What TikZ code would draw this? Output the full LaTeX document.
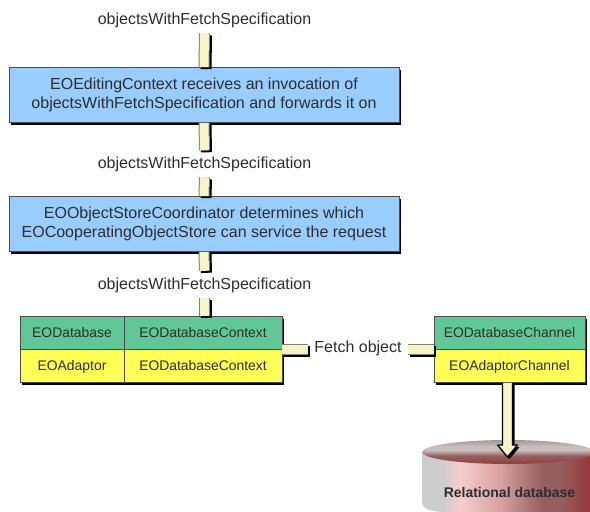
\documentclass[tikz,border=0pt]{standalone}
\usepackage{fontspec}
\setmainfont{Liberation Sans}
\usetikzlibrary{shadows}
\definecolor{boxblue}{RGB}{153,204,255}
\definecolor{boxgreen}{RGB}{96,200,150}
\definecolor{boxyellow}{RGB}{255,255,85}
\definecolor{pipepale}{RGB}{245,245,200}
\definecolor{pipeedge}{RGB}{130,130,100}
\definecolor{textgrey}{RGB}{45,45,45}
\definecolor{dbgrey}{RGB}{205,205,205}
\definecolor{dbpink}{RGB}{245,205,205}
\definecolor{dbrose}{RGB}{215,160,160}
\definecolor{dbbrown}{RGB}{150,95,95}
\definecolor{dbred}{RGB}{150,55,55}
\definecolor{dbtopdark}{RGB}{165,150,150}
\definecolor{dbtoplight}{RGB}{200,190,190}
\definecolor{dbtoprim}{RGB}{145,65,65}
\pgfdeclarehorizontalshading{dbside}{100bp}{
  color(0bp)=(dbgrey);
  color(25bp)=(dbgrey);
  color(31bp)=(dbgrey);
  color(36bp)=(dbpink);
  color(48bp)=(dbrose);
  color(60bp)=(dbbrown);
  color(65bp)=(dbbrown);
  color(74bp)=(dbred);
  color(100bp)=(dbred)}
\pgfdeclareverticalshading{dbtop}{100bp}{
  color(0bp)=(dbtoprim);
  color(27bp)=(dbtoprim);
  color(42bp)=(dbbrown);
  color(54bp)=(dbtoplight);
  color(62bp)=(dbtoplight);
  color(75bp)=(dbtopdark);
  color(100bp)=(dbtopdark)}
\tikzset{
  withshadow/.style={drop shadow={shadow xshift=2pt,shadow yshift=-2pt,fill=black,opacity=1}},
  bluebox/.style={draw=black!70,line width=0.8pt,fill=boxblue,withshadow,minimum width=390pt,minimum height=55pt,
    inner sep=0pt,align=center,font=\fontsize{16}{18.5}\selectfont,text=textgrey},
  cell/.style={draw=black!70,line width=0.8pt,withshadow,minimum height=33pt,inner sep=0pt,
    text height=10pt,text depth=2pt,font=\fontsize{13.9}{15}\selectfont,text=textgrey},
  greencell/.style={cell,fill=boxgreen},
  yellowcell/.style={cell,fill=boxyellow},
  callname/.style={anchor=base,inner xsep=0pt,inner ysep=0pt,text height=18pt,text depth=8.5pt,
    font=\fontsize{16}{18}\selectfont,text=textgrey},
  pipe/.style={draw=pipeedge,line width=11pt,
    preaction={draw=black,line width=11pt,transform canvas={shift={(2pt,-2pt)}}},
    postaction={draw=pipepale,line width=9pt}},
}
\begin{document}
\begin{tikzpicture}[x=1pt,y=-1pt]
  \useasboundingbox (0,0) rectangle (590,512);

  % Labels
  \node[callname] (call1) at (204.5,24.5) {objectsWithFetchSpecification};
  \node[callname] (call2) at (204.5,168.5) {objectsWithFetchSpecification};
  \node[callname] (call3) at (204.5,289) {objectsWithFetchSpecification};

  % Blue boxes
  \node[bluebox] (editing) at (204,95) {EOEditingContext receives an invocation of\\objectsWithFetchSpecification and forwards it on};
  \node[bluebox] (store) at (204,224) {EOObjectStoreCoordinator determines which\\EOCooperatingObjectStore can service the request};

  % Left table
  \node[greencell,minimum width=104pt] (database) at (72,333) {EODatabase};
  \node[greencell,minimum width=158pt] (dbcontext) at (203,333) {EODatabaseContext};
  \node[yellowcell,minimum width=104pt] (adaptor) at (72,366) {EOAdaptor};
  \node[yellowcell,minimum width=158pt] (adcontext) at (203,366) {EODatabaseContext};

  % Right table
  \node[greencell,minimum width=151pt] (dbchannel) at (509.5,333) {EODatabaseChannel};
  \node[yellowcell,minimum width=151pt] (adchannel) at (509.5,366) {EOAdaptorChannel};

  % Fetch label
  \node[inner xsep=6pt,inner ysep=0pt,font=\fontsize{16}{18}\selectfont,text=textgrey] (fetch) at (358,348.5) {Fetch object};

  % Database
  \shade[shading=dbside] (422,452) -- (422,502) .. controls (422,509) and (432,512) .. (445,512)
    -- (594,512) -- (594,452) -- cycle;
  \shade[shading=dbtop] (508,452) ellipse (86 and 12);
  \node[font=\bfseries\fontsize{14}{15}\selectfont,text=textgrey] (dbname) at (509.5,492.5) {Relational database};

  % Pipes
  \draw[pipe] (call1.south) -- (editing.north);
  \draw[pipe] (editing.south) -- (call2.north);
  \draw[pipe] (call2.south) -- (store.north);
  \draw[pipe] (store.south) -- (call3.north);
  \draw[pipe] (call3.south) -- (dbcontext.north -| call3.south);
  \coordinate (dbfrom) at (adcontext.north east);
  \coordinate (dbto) at (adchannel.north west);
  \draw[pipe] (dbfrom) -- (dbfrom -| fetch.west);
  \draw[pipe] (dbto -| fetch.east) -- (dbto);

  % Arrow
  \coordinate (tip) at (507.5,457);
  \coordinate (start) at (adchannel.south -| tip);
  \draw[draw=black,line width=1.4pt,fill=pipepale,miter limit=2,withshadow]
    ([xshift=-5pt]start) -- ([xshift=-5pt,yshift=12pt]tip) -- ([xshift=-10pt,yshift=12pt]tip) -- (tip)
    -- ([xshift=10pt,yshift=12pt]tip) -- ([xshift=5pt,yshift=12pt]tip) -- ([xshift=5pt]start);
\end{tikzpicture}
\end{document}
